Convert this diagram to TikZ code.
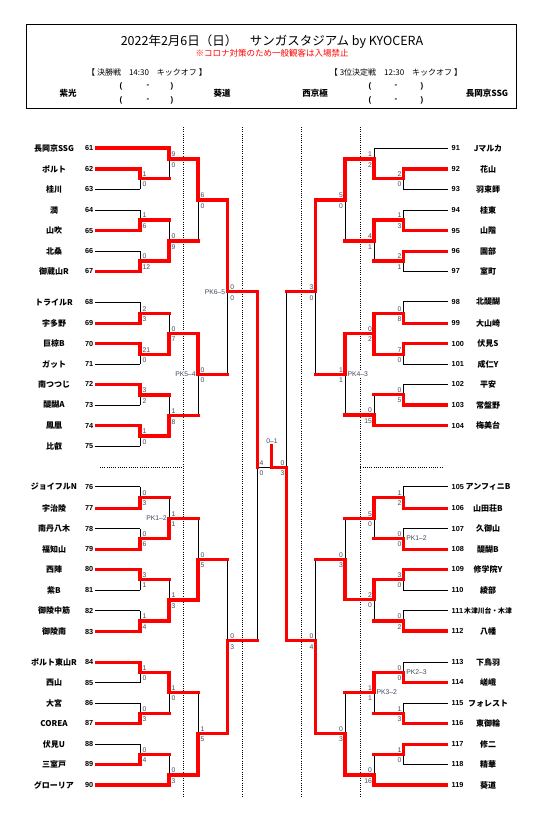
\documentclass[tikz,border=0pt]{standalone}
\usepackage{fontspec}
\setmainfont{Noto Sans CJK JP}
\newfontfamily\lat{Liberation Sans}
\pgfdeclarelayer{back}
\pgfdeclarelayer{bg}
\pgfsetlayers{back,bg,main}
\definecolor{bred}{RGB}{255,0,0}
\definecolor{scg}{RGB}{64,72,92}
\tikzset{
 win/.style={draw=bred,line width=3.3pt,line cap=rect,line join=miter},
 winh/.style={draw=bred,line width=3.3pt,line cap=butt},
 lose/.style={draw=black,line width=0.9pt},
 dotl/.style={draw=black,line width=0.8pt,dash pattern=on 0.8pt off 1.4pt},
 sc/.style={font=\lat\fontsize{6.8}{7}\selectfont,text=scg,inner sep=0pt},
 pk/.style={font=\lat\fontsize{6.8}{7}\selectfont,text=scg,inner sep=0.6pt,fill=white},
 nm/.style={font=\bfseries\fontsize{8}{9}\selectfont,inner sep=0pt},
 num/.style={font=\lat\bfseries\fontsize{7.3}{8}\selectfont,inner sep=0pt},
 hd/.style={font=\fontsize{8}{9}\selectfont,inner sep=0pt},
 hdp/.style={font=\lat\bfseries\fontsize{8}{9}\selectfont,inner sep=0pt},
 hdb/.style={font=\bfseries\fontsize{8.5}{9}\selectfont,inner sep=0pt},
}
% left team: y, xend, w/l, number, name
\newcommand\LT[5]{%
  \node[nm] (L#4) at (54,#1) {#5};
  \node[num,anchor=east] (N#4) at (93.5,#1) {#4};
  \if#3w\draw[winh] (95,#1) -- (#2,#1);\else\begin{pgfonlayer}{bg}\draw[lose] (95,#1) -- (#2,#1);\end{pgfonlayer}\fi}
% right team
\newcommand\RT[5]{%
  \node[nm] (R#4) at (488,#1) {#5};
  \node[num,anchor=west] (M#4) at (451.5,#1) {#4};
  \if#3w\draw[winh] (447.7,#1) -- (#2,#1);\else\begin{pgfonlayer}{bg}\draw[lose] (447.7,#1) -- (#2,#1);\end{pgfonlayer}\fi}
% match: x, xnext, ytop, ybot, yout, t/b winner, score top, score bottom
\newcommand\LM[8]{%
  \if#6t
    \begin{pgfonlayer}{bg}\draw[lose] (#1,#5) -- (#1,#4);\end{pgfonlayer}
    \draw[win] (#1,#3) -- (#1,#5) -- (#2,#5);
  \else
    \begin{pgfonlayer}{bg}\draw[lose] (#1,#5) -- (#1,#3);\end{pgfonlayer}
    \draw[win] (#1,#4) -- (#1,#5) -- (#2,#5);
  \fi
  \node[sc,anchor=base west] at ({#1+2.5},{#5-2.3}) {#7};
  \node[sc,anchor=base west] at ({#1+2.5},{#5+8.6}) {#8};}
\newcommand\RM[8]{%
  \if#6t
    \begin{pgfonlayer}{bg}\draw[lose] (#1,#5) -- (#1,#4);\end{pgfonlayer}
    \draw[win] (#1,#3) -- (#1,#5) -- (#2,#5);
  \else
    \begin{pgfonlayer}{bg}\draw[lose] (#1,#5) -- (#1,#3);\end{pgfonlayer}
    \draw[win] (#1,#4) -- (#1,#5) -- (#2,#5);
  \fi
  \node[sc,anchor=base east] at ({#1-1.8},{#5-2.3}) {#7};
  \node[sc,anchor=base east] at ({#1-1.8},{#5+8.6}) {#8};}
\begin{document}
\begin{tikzpicture}[x=1pt,y=-1pt]
\useasboundingbox (0,0) rectangle (533,814);
\begin{pgfonlayer}{back}
\fill[white] (0,0) rectangle (533,814);
\end{pgfonlayer}

% header
\draw[line width=0.8pt] (26,24) rectangle (516,108);
\node[font=\fontsize{12.5}{13}\selectfont,inner sep=0pt] (title) at (272,42) {2022年2月6日（日）　サンガスタジアム by KYOCERA};
\node[font=\fontsize{8.5}{9}\selectfont,text=bred,inner sep=0pt] (note) at (272,53.5) {※コロナ対策のため一般観客は入場禁止};
\node[hd] (fin) at (147,72) {【 決勝戦　14:30　キックオフ 】};
\node[hd] (third) at (396,72) {【 3位決定戦　12:30　キックオフ 】};
\node[hdb] (f1) at (68,93) {紫光};
\node[hdb] (f2) at (222,93) {葵道};
\node[hdb] (t1) at (315,93) {西京極};
\node[hdb] (t2) at (487,93) {長岡京SSG};
\foreach \yy/\k in {86/a,100/b}{
  \node[hdp] (pl\k) at (121,\yy) {(};
  \node[hdp] (dl\k) at (148,\yy) {-};
  \node[hdp] (ql\k) at (172,\yy) {)};
  \node[hdp] (pr\k) at (370,\yy) {(};
  \node[hdp] (dr\k) at (396,\yy) {-};
  \node[hdp] (qr\k) at (422,\yy) {)};
}

% dotted guides
\begin{pgfonlayer}{bg}
\foreach \xx in {183.3,242.3,301.3,360.3}{\draw[dotl] (\xx,127) -- (\xx,796);}
\draw[dotl] (100,467.3) -- (183.3,467.3);
\draw[dotl] (360.3,467.3) -- (443,467.3);
\end{pgfonlayer}

% PK labels
\node[pk,anchor=east] (pkA) at (167.5,518.3) {PK1–2};
\node[pk,anchor=east] (pkB) at (196.5,374.3) {PK5–4};
\node[pk,anchor=east] (pkC) at (226,291.7) {PK6–5};
\node[pk,anchor=west] (pkD) at (346.8,374.3) {PK4–3};
\node[pk,anchor=west] (pkE) at (375.8,692.3) {PK3–2};
\node[pk,anchor=west] (pkF) at (405.5,538.3) {PK1–2};
\node[pk,anchor=west] (pkG) at (405.5,672.3) {PK2–3};

% left teams
\LT{148}{169}{w}{61}{長岡京SSG}
\LT{169}{140}{w}{62}{ポルト}
\LT{189}{140}{l}{63}{桂川}
\LT{210}{140}{l}{64}{潤}
\LT{230.7}{140}{w}{65}{山吹}
\LT{251.3}{140}{l}{66}{北桑}
\LT{271.3}{140}{w}{67}{御蔵山R}
\LT{302.3}{140}{l}{68}{トライルR}
\LT{323.3}{140}{w}{69}{宇多野}
\LT{343.7}{140}{w}{70}{巨椋B}
\LT{364.3}{140}{l}{71}{ガット}
\LT{384.3}{140}{w}{72}{南つつじ}
\LT{405}{140}{l}{73}{醍醐A}
\LT{425.7}{140}{w}{74}{鳳凰}
\LT{446.3}{140}{l}{75}{比叡}
\LT{486.7}{140}{l}{76}{ジョイフルN}
\LT{508.3}{140}{w}{77}{宇治陵}
\LT{528.7}{140}{l}{78}{南丹八木}
\LT{549.3}{140}{w}{79}{福知山}
\LT{569.3}{140}{w}{80}{西陣}
\LT{590}{140}{l}{81}{紫B}
\LT{610.7}{140}{l}{82}{御陵中筋}
\LT{631.7}{140}{w}{83}{御陵南}
\LT{662.3}{140}{w}{84}{ポルト東山R}
\LT{682.7}{140}{l}{85}{西山}
\LT{703.3}{140}{l}{86}{大宮}
\LT{723.3}{140}{w}{87}{COREA}
\LT{744.3}{140}{l}{88}{伏見U}
\LT{764.3}{140}{w}{89}{三室戸}
\LT{785}{169}{w}{90}{グローリア}

% right teams
\RT{148.3}{374}{l}{91}{Jマルカ}
\RT{169}{403.3}{w}{92}{花山}
\RT{189}{403.3}{l}{93}{羽束師}
\RT{210}{403.3}{l}{94}{桂東}
\RT{230.7}{403.3}{w}{95}{山階}
\RT{251.3}{403.3}{w}{96}{園部}
\RT{271.3}{403.3}{l}{97}{室町}
\RT{301.7}{403.3}{l}{98}{北醍醐}
\RT{323.3}{403.3}{w}{99}{大山崎}
\RT{343.7}{403.3}{w}{100}{伏見S}
\RT{364.3}{403.3}{l}{101}{成仁Y}
\RT{384.3}{403.3}{l}{102}{平安}
\RT{405}{403.3}{w}{103}{常盤野}
\RT{425.7}{374}{w}{104}{梅美台}
\RT{486.7}{403.3}{l}{105}{アンフィニB}
\RT{508.3}{403.3}{w}{106}{山田荘B}
\RT{528.7}{403.3}{l}{107}{久御山}
\RT{549.3}{403.3}{w}{108}{醍醐B}
\RT{569.3}{403.3}{w}{109}{修学院Y}
\RT{590}{403.3}{l}{110}{綾部}
\RT{610.7}{403.3}{l}{111}{\fontsize{6.8}{7}\selectfont 木津川台・木津}
\RT{631}{403.3}{w}{112}{八幡}
\RT{662.3}{403.3}{l}{113}{下鳥羽}
\RT{682.3}{403.3}{w}{114}{嵯峨}
\RT{703.3}{403.3}{l}{115}{フォレスト}
\RT{723.3}{403.3}{w}{116}{東御輪}
\RT{744.3}{403.3}{w}{117}{修二}
\RT{764.3}{403.3}{l}{118}{精華}
\RT{785}{374}{w}{119}{葵道}

% left round 1
\LM{140}{169}{169}{189}{178.3}{t}{1}{0}
\LM{140}{169}{210}{230.7}{220}{b}{1}{6}
\LM{140}{169}{251.3}{271.3}{261}{b}{0}{12}
\LM{140}{169}{302.3}{323.3}{313.3}{b}{2}{3}
\LM{140}{169}{343.7}{364.3}{354.3}{t}{21}{0}
\LM{140}{169}{384.3}{405}{395}{t}{3}{2}
\LM{140}{169}{425.7}{446.3}{436}{t}{1}{0}
\LM{140}{169}{486.7}{508.3}{497.3}{b}{0}{3}
\LM{140}{169}{528.7}{549.3}{538.3}{b}{0}{6}
\LM{140}{169}{569.3}{590}{579.3}{t}{3}{1}
\LM{140}{169}{610.7}{631.7}{621}{b}{1}{4}
\LM{140}{169}{662.3}{682.7}{672.3}{t}{1}{0}
\LM{140}{169}{703.3}{723.3}{713.3}{b}{0}{3}
\LM{140}{169}{744.3}{764.3}{754.3}{b}{0}{4}
% left round 2
\LM{169}{198}{148}{178.3}{159}{t}{9}{0}
\LM{169}{198}{220}{261}{241}{b}{0}{9}
\LM{169}{198}{313.3}{354.3}{333.3}{b}{0}{7}
\LM{169}{198}{395}{436}{415.7}{b}{1}{8}
\LM{169}{198}{497.3}{538.3}{518.3}{b}{1}{1}
\LM{169}{198}{579.3}{621}{600}{b}{1}{3}
\LM{169}{198}{672.3}{713.3}{692.3}{t}{1}{0}
\LM{169}{198}{754.3}{785}{775}{b}{0}{3}
% left round 3
\LM{198}{227.7}{159}{241}{200}{t}{6}{0}
\LM{198}{227.7}{333.3}{415.7}{374.3}{t}{0}{0}
\LM{198}{227.7}{518.3}{600}{559.3}{b}{0}{5}
\LM{198}{227.7}{692.3}{775}{733.3}{b}{1}{5}
% left semis
\LM{227.7}{257.3}{200}{374.3}{291.7}{t}{0}{0}
\LM{227.7}{257.3}{559.3}{733.3}{640.7}{b}{0}{3}

% right round 1
\RM{403.3}{374}{169}{189}{178.3}{t}{2}{0}
\RM{403.3}{374}{210}{230.7}{220}{b}{1}{3}
\RM{403.3}{374}{251.3}{271.3}{261}{t}{2}{1}
\RM{403.3}{374}{301.7}{323.3}{313.3}{b}{0}{8}
\RM{403.3}{374}{343.7}{364.3}{354.3}{t}{7}{0}
\RM{403.3}{374}{384.3}{405}{394.3}{b}{0}{5}
\RM{403.3}{374}{486.7}{508.3}{497.3}{b}{1}{2}
\RM{403.3}{374}{528.7}{549.3}{538.3}{b}{0}{0}
\RM{403.3}{374}{569.3}{590}{579.3}{t}{3}{0}
\RM{403.3}{374}{610.7}{631}{621}{b}{0}{2}
\RM{403.3}{374}{662.3}{682.3}{672.3}{b}{0}{0}
\RM{403.3}{374}{703.3}{723.3}{713.3}{b}{1}{3}
\RM{403.3}{374}{744.3}{764.3}{754.3}{t}{1}{0}
% right round 2
\RM{374}{345}{148.3}{178.3}{159}{b}{1}{2}
\RM{374}{345}{220}{261}{241}{t}{4}{1}
\RM{374}{345}{313.3}{354.3}{333.3}{b}{0}{2}
\draw[win] (374,313.3) -- (374,333.3);
\RM{374}{345}{394.3}{425.7}{415}{b}{0}{15}
\RM{374}{345}{497.3}{538.3}{518.3}{t}{5}{0}
\RM{374}{345}{579.3}{621}{599.3}{t}{2}{0}
\RM{374}{345}{672.3}{713.3}{692.3}{t}{1}{1}
\RM{374}{345}{754.3}{785}{775}{b}{0}{16}
% right round 3
\RM{345}{315.3}{159}{241}{200}{t}{5}{0}
\RM{345}{315.3}{333.3}{415}{374.3}{t}{1}{1}
\RM{345}{315.3}{518.3}{599.3}{559.3}{b}{0}{3}
\RM{345}{315.3}{692.3}{775}{733.3}{b}{0}{3}
% right semis
\RM{315.3}{286.7}{200}{374.3}{291.7}{t}{3}{0}
\RM{315.3}{286.7}{559.3}{733.3}{640.7}{b}{0}{4}

% centre
\coordinate (cL) at (257.3,467.3);
\coordinate (cM) at (271.8,467.3);
\coordinate (cR) at (286.7,467.3);
\coordinate (cT) at (271.8,446);
\begin{pgfonlayer}{bg}
\draw[lose] (cL) -- (257.3,640.7);
\draw[lose] (cL) -- (cM);
\draw[lose] (286.7,291.7) -- (cR);
\end{pgfonlayer}
\draw[win] (257.3,291.7) -- (cL);
\draw[win] (cT) -- (cM) -- (cR) -- (286.7,640.7);
\node[sc,anchor=base west] (sL1) at (259.3,465) {4};
\node[sc,anchor=base west] (sL2) at (259.3,475.9) {0};
\node[sc,anchor=base east] (sR1) at (284.6,465) {0};
\node[sc,anchor=base east] (sR2) at (284.6,475.9) {3};
\node[sc,anchor=base] (res) at (272,443.5) {0–1};
\end{tikzpicture}
\end{document}
